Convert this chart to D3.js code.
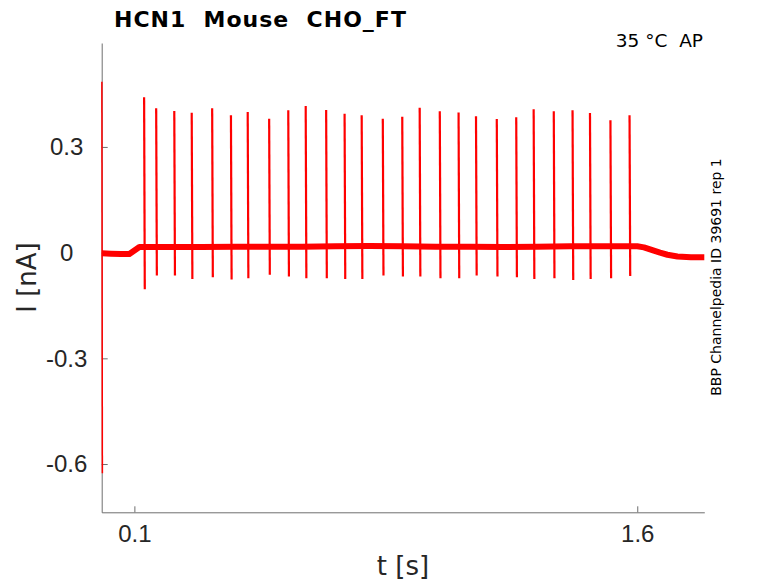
<!DOCTYPE html>
<html>
<head>
<meta charset="utf-8">
<script src="https://cdn.jsdelivr.net/npm/d3@7"></script>
<style>
  body { margin: 0; background: #fff; }
  svg { display: block; font-family: "DejaVu Sans", sans-serif; }
  .axis path, .axis line { stroke: #6e6e6e; }
  .axis text { fill: #262626; font-size: 24px; }
</style>
</head>
<body>
<svg id="trace" width="778" height="583"></svg>
<script>
// holding current trace
var baseTimes = [0.003, 0.03, 0.06, 0.085, 0.1, 0.115, 0.2, 0.3, 0.4, 0.5, 0.6, 0.7, 0.8, 0.9, 1.0, 1.1, 1.2, 1.3, 1.4, 1.5, 1.6, 1.62, 1.645, 1.668, 1.69, 1.72, 1.76, 1.8];
var baseLevel = [-0.002, -0.003, -0.004, -0.004, 0.006, 0.016, 0.016, 0.016, 0.017, 0.017, 0.017, 0.018, 0.019, 0.018, 0.017, 0.017, 0.016, 0.017, 0.018, 0.018, 0.018, 0.015, 0.007, 0.000, -0.006, -0.011, -0.013, -0.013];

// action potential currents: time, peak, undershoot
var spikeTimes = [0.129, 0.165, 0.219, 0.271, 0.332, 0.388, 0.438, 0.502, 0.559, 0.611, 0.672, 0.727, 0.778, 0.841, 0.899, 0.951, 1.011, 1.067, 1.119, 1.181, 1.239, 1.291, 1.351, 1.407, 1.459, 1.520, 1.577];
var spikePeaks = [0.441, 0.410, 0.402, 0.397, 0.410, 0.390, 0.399, 0.380, 0.404, 0.416, 0.405, 0.394, 0.390, 0.380, 0.386, 0.411, 0.401, 0.398, 0.387, 0.379, 0.384, 0.407, 0.401, 0.404, 0.396, 0.376, 0.390];
var spikeTroughs = [-0.104, -0.065, -0.065, -0.075, -0.070, -0.076, -0.073, -0.063, -0.068, -0.073, -0.073, -0.075, -0.075, -0.065, -0.068, -0.068, -0.073, -0.073, -0.065, -0.068, -0.070, -0.075, -0.073, -0.078, -0.075, -0.073, -0.066];

// capacitive transient at the very start
var transientTime = [0.003, 0.0045];
var transientVals = [0.485, -0.626];

var xTicks = [0.1, 1.6];
var yTicks = [-0.6, -0.3, 0, 0.3];

var svg = d3.select("#trace");
var x = d3.scaleLinear().domain([0.0025, 1.8]).range([101.7, 704.3]);
var y = d3.scaleLinear().domain([-0.737, 0.595]).range([512.3, 43]);

var fmt = function(d) { return d === 0 ? "0" : String(d); };

var xAxis = svg.append("g")
  .attr("class", "axis")
  .attr("transform", "translate(0," + y.range()[0] + ")")
  .call(d3.axisBottom(x).tickValues(xTicks).tickFormat(fmt).tickSizeInner(-6).tickSizeOuter(0));
xAxis.selectAll("text").attr("y", 13).attr("dy", "0.71em");

var yAxis = svg.append("g")
  .attr("class", "axis")
  .attr("transform", "translate(" + x.range()[0] + ",0)")
  .call(d3.axisLeft(y).tickValues(yTicks).tickFormat(fmt).tickSizeInner(-6).tickSizeOuter(0));
yAxis.selectAll("text").attr("x", -35).attr("text-anchor", "middle");

var plot = svg.append("g");

// noisy holding level drawn as a thick band
var line = d3.line()
  .x(function(d) { return x(d[0]); })
  .y(function(d) { return y(d[1]); });

plot.append("path")
  .datum(d3.zip(baseTimes, baseLevel))
  .attr("d", line)
  .attr("fill", "none")
  .attr("stroke", "#ff0000")
  .attr("stroke-width", 6)
  .attr("stroke-linejoin", "round");

plot.append("path")
  .datum(d3.zip(transientTime, transientVals))
  .attr("d", line)
  .attr("fill", "none")
  .attr("stroke", "#ff0000")
  .attr("stroke-width", 1.5);

plot.selectAll("path.spike")
  .data(d3.range(spikeTimes.length))
  .enter().append("path")
  .attr("class", "spike")
  .attr("d", function(i) {
    return line([[spikeTimes[i], spikePeaks[i]], [spikeTimes[i] + 0.002, spikeTroughs[i]]]);
  })
  .attr("fill", "none")
  .attr("stroke", "#ff0000")
  .attr("stroke-width", 2.2);

svg.append("text")
  .attr("x", 114).attr("y", 26.7)
  .attr("font-size", 22).attr("font-weight", "bold")
  .attr("letter-spacing", 1)
  .style("white-space", "pre")
  .attr("fill", "#000")
  .text("HCN1  Mouse  CHO_FT");

svg.append("text")
  .attr("x", 703).attr("y", 46.7)
  .attr("font-size", 18.5).attr("text-anchor", "end")
  .style("white-space", "pre")
  .attr("fill", "#000")
  .text("35 °C  AP");

svg.append("text")
  .attr("transform", "translate(721,277) rotate(-90)")
  .attr("font-size", 14).attr("text-anchor", "middle")
  .attr("fill", "#000")
  .text("BBP Channelpedia ID 39691 rep 1");

svg.append("text")
  .attr("x", 403).attr("y", 575)
  .attr("font-size", 26).attr("text-anchor", "middle")
  .attr("fill", "#262626")
  .text("t [s]");

svg.append("text")
  .attr("transform", "translate(35.5,277.5) rotate(-90)")
  .attr("font-size", 26).attr("text-anchor", "middle")
  .attr("fill", "#262626")
  .text("I [nA]");
</script>
</body>
</html>
